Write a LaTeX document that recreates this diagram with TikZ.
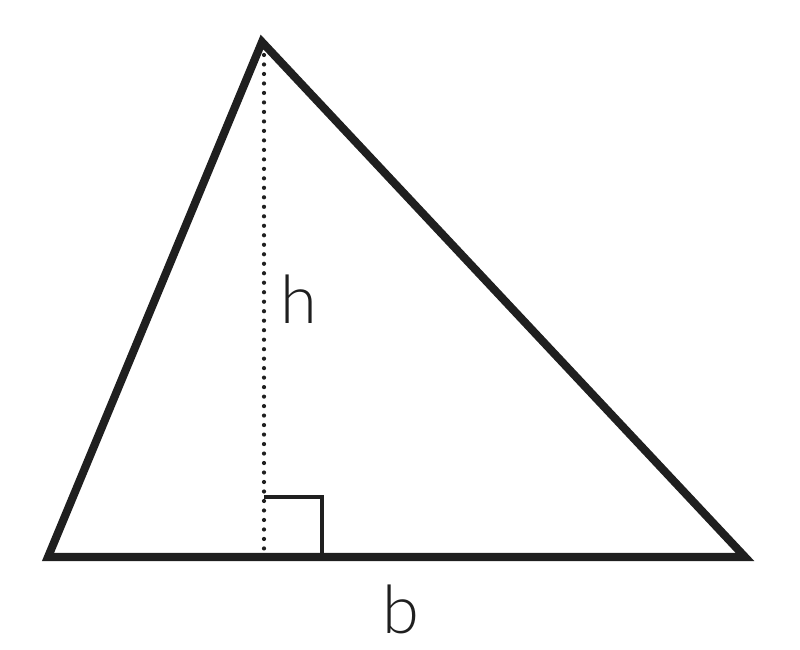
\documentclass[tikz,border=0pt]{standalone}
\usepackage{fontspec}
\setmainfont{Lato}[UprightFont=* Light]
\begin{document}
\begin{tikzpicture}[
    edge/.style={line width=2.3pt, line join=miter, color=black!88},
    height/.style={line width=1.2pt, line cap=round, dash pattern=on 0pt off 2.7pt, color=black!88},
    rightangle/.style={line width=0.9pt, color=black!88},
    lbl/.style={inner sep=0pt, font=\fontsize{19}{20}\selectfont, color=black!88}
  ]
    \useasboundingbox (0,0) rectangle (8,6.5);
    % Eckpunkte
    \coordinate (A) at (0.48,0.93);
    \coordinate (B) at (7.45,0.93);
    \coordinate (C) at (2.62,6.08);
    \coordinate (F) at (2.64,0.93);
    \coordinate (Ftop) at (2.64,5.95);
    % Dreieck
    \draw[edge] (A) -- (B) -- (C) -- cycle;
    % Hoehe
    \draw[height] (Ftop) -- (2.64,1.01);
    % Rechter Winkel
    \draw[rightangle] (2.64,1.53) -- (3.22,1.53) -- (3.22,0.96);
    % Beschriftung
    \node[lbl] (h) at (2.99,3.51) {h};
    \node[lbl] (b) at (4.01,0.41) {b};
  \end{tikzpicture}
\end{document}
